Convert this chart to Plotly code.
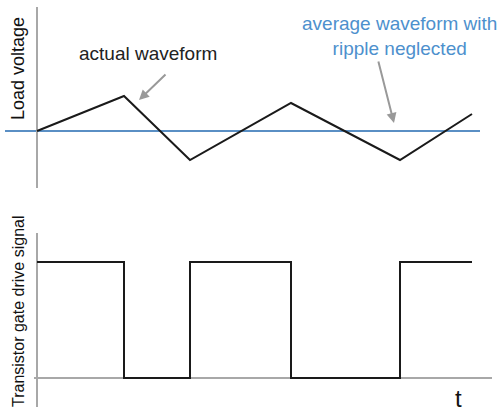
import plotly.graph_objects as go

# ---- data (time in arbitrary units) ----
wave_t = [0, 87, 153, 254, 363, 435]
wave_v = [0, 35, -29, 28, -29, 17]          # load voltage relative to its average
avg_level = 0

gate_t = [0, 87, 153, 254, 363, 435]
gate_v = [1, 0, 1, 0, 1, 1]                  # gate drive (step, hold-then-change)

FONT = "Liberation Sans, Arial, sans-serif"
W, H = 497, 412
split = 1 - 200 / H

fig = go.Figure()

fig.add_trace(go.Scatter(x=wave_t, y=wave_v, mode="lines",
                         line=dict(color="#1a1a1a", width=2), xaxis="x", yaxis="y",
                         hoverinfo="skip"))
fig.add_trace(go.Scatter(x=gate_t, y=gate_v, mode="lines", line_shape="hv",
                         line=dict(color="#1a1a1a", width=2), xaxis="x2", yaxis="y2",
                         hoverinfo="skip"))

shapes = [
    # average waveform (blue)
    dict(type="line", xref="x", yref="y", x0=-32, x1=443, y0=avg_level, y1=avg_level,
         line=dict(color="#5a8fc4", width=2), layer="below"),
    # top vertical axis
    dict(type="line", xref="x", yref="y", x0=0, x1=0, y0=-57, y1=124,
         line=dict(color="#a8a8a8", width=2), layer="below"),
    # bottom vertical axis
    dict(type="line", xref="x2", yref="y2", x0=0, x1=0, y0=-0.25, y1=1.25,
         line=dict(color="#a8a8a8", width=2), layer="below"),
    # bottom horizontal axis
    dict(type="line", xref="x2", yref="y2", x0=-3, x1=455, y0=0, y1=0,
         line=dict(color="#a8a8a8", width=2), layer="below"),
]

annotations = [
    dict(text="Load voltage", xref="paper", yref="paper", x=18 / W, y=1 - 69 / H,
         xanchor="center", yanchor="middle",
         textangle=-90, showarrow=False, font=dict(family=FONT, size=18, color="#111")),
    dict(text="Transistor gate drive signal", xref="paper", yref="paper",
         x=18 / W, y=1 - 311 / H, xanchor="center", yanchor="middle", textangle=-90,
         showarrow=False, font=dict(family=FONT, size=16, color="#111")),
    dict(text="actual waveform", xref="x", yref="y", x=111, y=78, showarrow=False,
         xanchor="center", yanchor="middle",
         font=dict(family=FONT, size=19, color="#222")),
    dict(text="average waveform with<br>ripple neglected", xref="x", yref="y",
         x=362, y=95, showarrow=False, xanchor="center", yanchor="middle",
         font=dict(family=FONT, size=19, color="#4d90cd")),
    dict(text="t", xref="x2", yref="y2", x=421, y=-0.18, showarrow=False,
         xanchor="center", yanchor="middle",
         font=dict(family=FONT, size=24, color="#111")),
    # arrows
    dict(text="", xref="x", yref="y", axref="x", ayref="y",
         x=102, y=31, ax=130, ay=58, showarrow=True,
         arrowhead=2, arrowsize=1, arrowwidth=2, arrowcolor="#999999"),
    dict(text="", xref="x", yref="y", axref="x", ayref="y",
         x=357, y=8, ax=341, ay=71, showarrow=True,
         arrowhead=2, arrowsize=1, arrowwidth=2, arrowcolor="#999999"),
]

fig.update_layout(
    width=W, height=H, margin=dict(l=0, r=0, t=0, b=0),
    paper_bgcolor="white", plot_bgcolor="white", showlegend=False,
    xaxis=dict(domain=[0, 1], range=[-37, 460], visible=False, anchor="y"),
    yaxis=dict(domain=[split, 1], range=[-69, 131], visible=False, anchor="x"),
    xaxis2=dict(domain=[0, 1], range=[-37, 460], visible=False, anchor="y2"),
    yaxis2=dict(domain=[0, split], range=[(378 - 412) / 116, (378 - 200) / 116],
                visible=False, anchor="x2"),
    shapes=shapes, annotations=annotations,
)

fig.write_html("out.html", config={"displayModeBar": False},
               post_script="document.body.style.margin='0';document.body.style.overflow='hidden';")
